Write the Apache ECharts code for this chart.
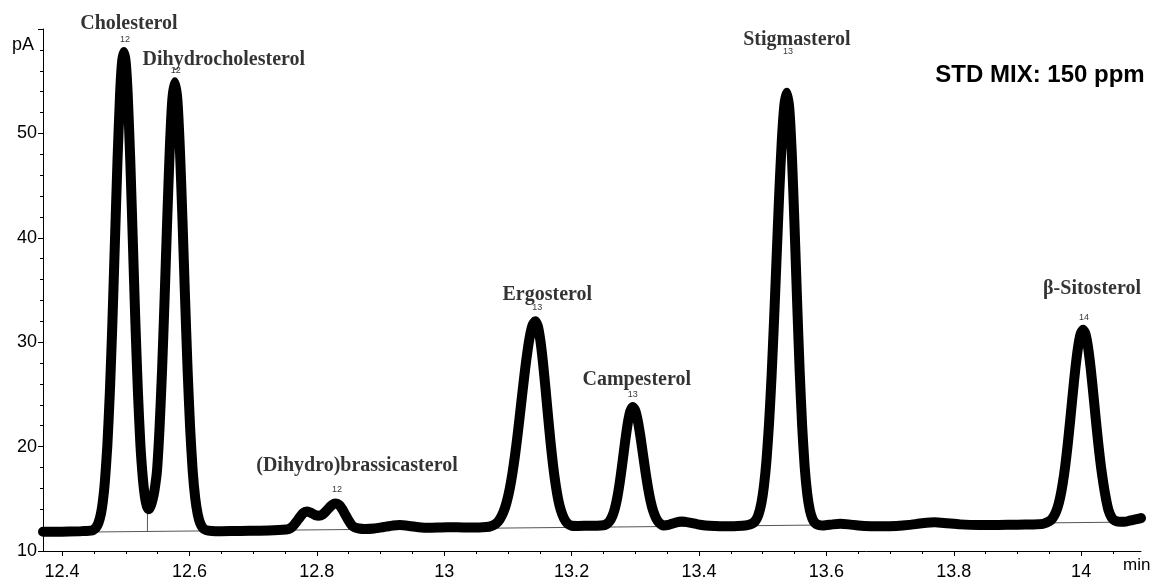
<!DOCTYPE html>
<html>
<head>
<meta charset="utf-8">
<title>STD MIX: 150 ppm</title>
<script src="https://cdn.jsdelivr.net/npm/echarts@6/dist/echarts.min.js"></script>
<style>
  html, body { margin: 0; padding: 0; background: #ffffff; }
  #chart { width: 1159px; height: 586px; }
</style>
</head>
<body>
<div id="chart"></div>
<script>
// FID signal (pA) against retention time (min)
const retentionTime = [
  12.370, 12.390, 12.410, 12.425, 12.435, 12.445, 12.449, 12.453, 12.457, 12.461,
  12.464, 12.467, 12.471, 12.475, 12.479, 12.483, 12.487, 12.491, 12.494, 12.497,
  12.500, 12.503, 12.507, 12.511, 12.515, 12.519, 12.523, 12.527, 12.530, 12.533,
  12.536, 12.539, 12.542, 12.545, 12.549, 12.553, 12.557, 12.561, 12.565, 12.569,
  12.573, 12.577, 12.581, 12.585, 12.589, 12.593, 12.597, 12.601, 12.605, 12.609,
  12.613, 12.617, 12.621, 12.626, 12.635, 12.650, 12.680, 12.710, 12.740, 12.752,
  12.756, 12.762, 12.768, 12.774, 12.779, 12.785, 12.791, 12.797, 12.803, 12.809,
  12.815, 12.821, 12.826, 12.830, 12.835, 12.840, 12.845, 12.850, 12.855, 12.860,
  12.866, 12.875, 12.890, 12.905, 12.920, 12.930, 12.945, 12.960, 12.975, 12.990,
  13.005, 13.020, 13.040, 13.055, 13.066, 13.073, 13.081, 13.087, 13.093, 13.098,
  13.103, 13.107, 13.111, 13.115, 13.119, 13.123, 13.127, 13.131, 13.135, 13.139,
  13.143, 13.147, 13.151, 13.155, 13.159, 13.163, 13.167, 13.171, 13.175, 13.179,
  13.183, 13.188, 13.193, 13.200, 13.210, 13.225, 13.240, 13.250, 13.254, 13.259,
  13.264, 13.268, 13.272, 13.276, 13.280, 13.284, 13.288, 13.292, 13.296, 13.300,
  13.304, 13.308, 13.312, 13.316, 13.320, 13.324, 13.328, 13.333, 13.338, 13.344,
  13.352, 13.362, 13.373, 13.385, 13.398, 13.410, 13.425, 13.440, 13.455, 13.468,
  13.476, 13.482, 13.488, 13.493, 13.498, 13.502, 13.506, 13.510, 13.514, 13.518,
  13.522, 13.526, 13.530, 13.534, 13.538, 13.542, 13.546, 13.550, 13.554, 13.558,
  13.562, 13.566, 13.570, 13.574, 13.578, 13.582, 13.588, 13.595, 13.610, 13.622,
  13.635, 13.650, 13.670, 13.690, 13.710, 13.730, 13.750, 13.770, 13.790, 13.810,
  13.840, 13.870, 13.900, 13.925, 13.940, 13.946, 13.953, 13.958, 13.963, 13.967,
  13.971, 13.975, 13.979, 13.983, 13.987, 13.991, 13.995, 13.999, 14.003, 14.007,
  14.011, 14.015, 14.019, 14.023, 14.027, 14.031, 14.035, 14.039, 14.043, 14.048,
  14.053, 14.060, 14.068, 14.076, 14.085, 14.094
];
const signal = [
  11.85, 11.85, 11.86, 11.88, 11.92, 11.95, 12.03, 12.23, 12.68, 13.58,
  14.76, 16.52, 20.07, 25.26, 31.96, 39.76, 47.47, 53.76, 56.75, 57.80,
  56.75, 53.76, 47.47, 39.76, 31.96, 25.26, 20.10, 16.80, 15.20, 14.30,
  14.00, 14.30, 14.90, 15.80, 17.70, 21.80, 27.40, 34.30, 41.70, 48.40,
  53.20, 54.90, 53.20, 48.40, 41.70, 34.30, 27.40, 21.80, 17.70, 15.06,
  13.50, 12.63, 12.21, 12.00, 11.92, 11.90, 11.92, 11.95, 12.00, 12.05,
  12.10, 12.35, 12.80, 13.30, 13.65, 13.78, 13.65, 13.45, 13.38, 13.50,
  13.85, 14.25, 14.50, 14.55, 14.40, 14.00, 13.45, 12.90, 12.45, 12.25,
  12.15, 12.10, 12.15, 12.30, 12.45, 12.48, 12.40, 12.28, 12.22, 12.24,
  12.27, 12.27, 12.25, 12.25, 12.29, 12.37, 12.62, 13.02, 13.74, 14.68,
  16.02, 17.42, 19.10, 21.04, 23.15, 25.32, 27.42, 29.27, 30.74, 31.68,
  32.00, 31.53, 30.14, 28.07, 25.56, 22.90, 20.37, 18.14, 16.32, 14.92,
  13.92, 13.12, 12.67, 12.42, 12.40, 12.42, 12.43, 12.47, 12.55, 12.80,
  13.35, 14.10, 15.22, 16.74, 18.56, 20.47, 22.18, 23.37, 23.80, 23.44,
  22.44, 20.98, 19.28, 17.57, 16.04, 14.78, 13.85, 13.09, 12.67, 12.45,
  12.50, 12.70, 12.82, 12.72, 12.55, 12.45, 12.40, 12.38, 12.38, 12.42,
  12.48, 12.58, 12.85, 13.41, 14.60, 16.24, 18.71, 22.24, 26.80, 32.32,
  38.34, 44.27, 49.29, 52.70, 53.90, 52.24, 47.63, 41.16, 33.98, 27.34,
  21.95, 18.00, 15.45, 13.92, 13.10, 12.70, 12.50, 12.45, 12.55, 12.60,
  12.55, 12.45, 12.38, 12.36, 12.40, 12.50, 12.65, 12.75, 12.65, 12.55,
  12.50, 12.50, 12.52, 12.55, 12.60, 12.72, 12.99, 13.42, 14.17, 15.11,
  16.43, 18.14, 20.24, 22.63, 25.14, 27.50, 29.45, 30.75, 31.20, 30.75,
  29.45, 27.50, 25.14, 22.63, 20.24, 18.14, 16.43, 15.00, 13.90, 13.20,
  12.90, 12.80, 12.80, 12.90, 13.02, 13.15
];

// Identified peaks: name, apex time, apex signal, run-time tag
const peakNames = ['Cholesterol', 'Dihydrocholesterol', '(Dihydro)brassicasterol',
  'Ergosterol', 'Campesterol', 'Stigmasterol', 'β-Sitosterol'];
const peakTimes = [12.497, 12.577, 12.830, 13.143, 13.296, 13.538, 14.003];
const peakApex = [57.80, 54.90, 14.55, 32.00, 23.80, 53.90, 31.20];
const peakTags = ['12', '12', '12', '13', '13', '13', '14'];

// Integration baseline and the drop line between the first two peaks
const baselineTimes = [12.447, 14.094];
const baselineValues = [11.82, 12.78];
const dropTimes = [12.534, 12.534];
const dropValues = [13.95, 11.86];

// Axis ticks
const xMajorTicks = [12.4, 12.6, 12.8, 13, 13.2, 13.4, 13.6, 13.8, 14];
const xMinorTicks = [12.4, 12.45, 12.5, 12.55, 12.6, 12.65, 12.7, 12.75, 12.8, 12.85,
  12.9, 12.95, 13, 13.05, 13.1, 13.15, 13.2, 13.25, 13.3, 13.35, 13.4, 13.45, 13.5,
  13.55, 13.6, 13.65, 13.7, 13.75, 13.8, 13.85, 13.9, 13.95, 14, 14.05];
const xRange = [12.37, 14.094];
const yRange = [10, 60];
const yStep = 10;

// label placement relative to each apex, in pixels
const nameOffsets = [[5, -28], [49, -22], [21, -38], [12, -26], [4, -27], [10, -53], [9, -41]];
const tagOffsets = [[1, -12], [1, -12], [1, -14], [2, -14], [0, -12], [1, -41], [1, -12]];

const zip = (a, b) => a.map((v, i) => [v, b[i]]);

const chart = echarts.init(document.getElementById('chart'), null, { renderer: 'canvas' });

const sans = 'Liberation Sans, Arial, sans-serif';
const serif = 'Liberation Serif, Times New Roman, serif';

chart.setOption({
  animation: false,
  backgroundColor: '#ffffff',
  grid: { left: 43, right: 18, top: 29, bottom: 35, containLabel: false },
  xAxis: [{
    type: 'value', min: xRange[0], max: xRange[1],
    axisLine: { show: true, onZero: false, lineStyle: { color: '#000', width: 1 } },
    axisTick: { show: true, customValues: xMajorTicks, length: 5, lineStyle: { color: '#000' } },
    axisLabel: {
      customValues: xMajorTicks, color: '#000', fontSize: 18, fontFamily: sans, margin: 12,
      formatter: v => String(Math.round(v * 10) / 10)
    },
    splitLine: { show: false }
  }, {
    type: 'value', min: xRange[0], max: xRange[1], position: 'bottom',
    axisLine: { show: false, onZero: false },
    axisTick: { show: true, customValues: xMinorTicks, length: 3, lineStyle: { color: '#000' } },
    axisLabel: { show: false },
    splitLine: { show: false }
  }],
  yAxis: {
    type: 'value', min: yRange[0], max: yRange[1], interval: yStep,
    axisLine: { show: true, onZero: false, lineStyle: { color: '#000', width: 1 } },
    axisTick: { show: true, length: 5, lineStyle: { color: '#000' } },
    minorTick: { show: true, splitNumber: 5, length: 3, lineStyle: { color: '#000' } },
    axisLabel: {
      color: '#000', fontSize: 18, fontFamily: sans, margin: 6,
      formatter: v => (v === yRange[1] ? '' : String(v))
    },
    splitLine: { show: false }
  },
  graphic: [
    { type: 'text', left: 12, top: 36, style: { text: 'pA', font: '18px ' + sans, fill: '#000' } },
    { type: 'text', left: 1123, top: 557, style: { text: 'min', font: '17px ' + sans, fill: '#000' } },
    {
      type: 'text', x: 1040, y: 75,
      style: { text: 'STD MIX: 150 ppm', font: 'bold 24px ' + sans, fill: '#000',
        align: 'center', verticalAlign: 'middle' }
    }
  ],
  series: [
    {
      type: 'line', data: zip(baselineTimes, baselineValues), showSymbol: false, symbol: 'none',
      lineStyle: { color: '#555', width: 1 }, z: 1, silent: true
    },
    {
      type: 'line', data: zip(dropTimes, dropValues), showSymbol: false, symbol: 'none',
      lineStyle: { color: '#555', width: 1 }, z: 1, silent: true
    },
    {
      type: 'line', data: zip(retentionTime, signal), showSymbol: false, symbol: 'none',
      smooth: 0.2,
      lineStyle: { color: '#000', width: 10, cap: 'round', join: 'round' }, z: 3
    },
    {
      type: 'scatter', symbolSize: 0, z: 5, silent: true,
      data: peakTimes.map((t, i) => ({
        value: [t, peakApex[i]], name: peakNames[i],
        label: { offset: nameOffsets[i] }
      })),
      label: {
        show: true, position: 'inside', formatter: p => p.name,
        fontFamily: serif, fontWeight: 'bold', fontSize: 20, color: '#000'
      }
    },
    {
      type: 'scatter', symbolSize: 0, z: 5, silent: true,
      data: peakTimes.map((t, i) => ({
        value: [t, peakApex[i]], name: peakTags[i],
        label: { offset: tagOffsets[i] }
      })),
      label: {
        show: true, position: 'inside', formatter: p => p.name,
        fontFamily: sans, fontSize: 9, color: '#000'
      }
    }
  ]
});
</script>
</body>
</html>
